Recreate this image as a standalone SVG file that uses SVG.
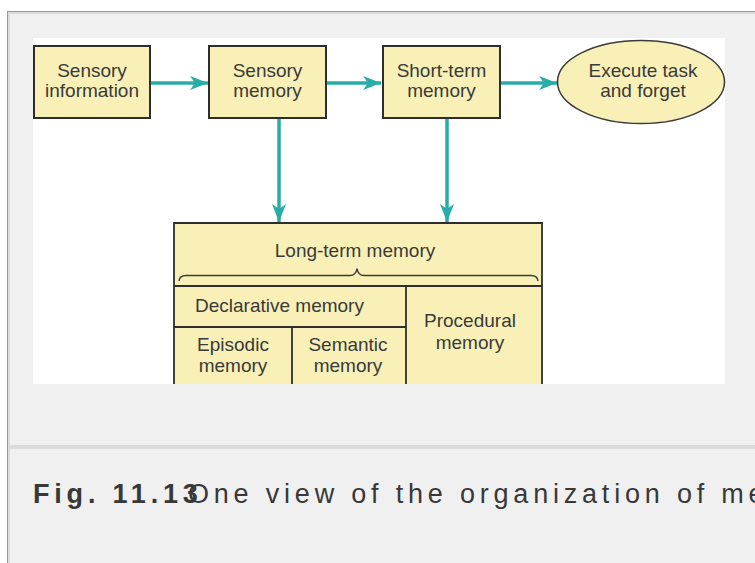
<svg xmlns="http://www.w3.org/2000/svg" width="755" height="563" viewBox="0 0 755 563">
  <defs>
    <style>
      .box { fill: #f8f0b6; stroke: #2e2e2e; stroke-width: 2; }
      .line { stroke: #2e2e2e; stroke-width: 1.8; fill: none; }
      .t { font-family: "Liberation Sans", Arial, sans-serif; font-size: 19px; fill: #3a3a3a; text-anchor: middle; }
      .tl { font-family: "Liberation Sans", Arial, sans-serif; font-size: 19px; fill: #3a3a3a; }
      .conn { stroke: #27aca8; stroke-width: 3.5; fill: none; }
      .cap { font-family: "Liberation Sans", Arial, sans-serif; font-size: 27px; fill: #383838; letter-spacing: 4.8px; }
    </style>
    <marker id="ah" viewBox="0 0 18 14" refX="18" refY="7" markerWidth="18" markerHeight="14" markerUnits="userSpaceOnUse" orient="auto">
      <path d="M0,0 L18,7 L0,14 L5,7 Z" fill="#27aca8"/>
    </marker>
  </defs>

  <!-- page background and frame -->
  <rect x="0" y="0" width="755" height="563" fill="#ffffff"/>
  <rect x="7" y="11" width="748" height="552" fill="#f0f0f0"/>
  <line x1="7" y1="11.5" x2="755" y2="11.5" stroke="#9a9a9a" stroke-width="1"/>
  <line x1="8" y1="13" x2="755" y2="13" stroke="#dcdcdc" stroke-width="2"/>
  <line x1="7.5" y1="11" x2="7.5" y2="563" stroke="#9a9a9a" stroke-width="1"/>
  <line x1="9" y1="12" x2="9" y2="563" stroke="#dcdcdc" stroke-width="2"/>
  <rect x="8" y="445" width="747" height="4" fill="#dcdcdc"/>

  <!-- figure area -->
  <rect x="33" y="38" width="692" height="346" fill="#ffffff"/>

  <!-- connectors -->
  <g id="connectors">
    <line class="conn" x1="151" y1="83" x2="208" y2="83" marker-end="url(#ah)"/>
    <line class="conn" x1="326" y1="83" x2="381" y2="83" marker-end="url(#ah)"/>
    <line class="conn" x1="500" y1="83" x2="557" y2="83" marker-end="url(#ah)"/>
    <line class="conn" x1="279" y1="119" x2="279" y2="222" marker-end="url(#ah)"/>
    <line class="conn" x1="447" y1="119" x2="447" y2="222" marker-end="url(#ah)"/>
  </g>

  <g id="sensory-information">
    <rect class="box" x="34" y="46" width="116" height="72"/>
    <text class="t" x="92" y="77">Sensory</text>
    <text class="t" x="92" y="97">information</text>
  </g>

  <g id="sensory-memory">
    <rect class="box" x="209" y="46" width="117" height="72"/>
    <text class="t" x="267.5" y="77">Sensory</text>
    <text class="t" x="267.5" y="97">memory</text>
  </g>

  <g id="short-term-memory">
    <rect class="box" x="383" y="46" width="117" height="72"/>
    <text class="t" x="441.5" y="77">Short-term</text>
    <text class="t" x="441.5" y="97">memory</text>
  </g>

  <g id="execute-task">
    <ellipse cx="641" cy="82" rx="83.5" ry="41.5" fill="#f8f0b6" stroke="#3a3a3a" stroke-width="1.5"/>
    <text class="t" x="643" y="77">Execute task</text>
    <text class="t" x="643" y="97">and forget</text>
  </g>

  <g id="long-term-memory">
    <rect x="174" y="223" width="368" height="161" fill="#f8f0b6"/>
    <path class="line" d="M174,384 L174,223 L542,223 L542,384" stroke-width="2"/>
    <text class="t" x="355" y="257">Long-term memory</text>
    <path d="M179,281 Q179.5,275.5 186,275.5 L350,275.5 Q356,275.5 357,268.5 Q358,275.5 364,275.5 L531,275.5 Q537.5,275.5 538,281" fill="none" stroke="#3a3a3a" stroke-width="1.4"/>
    <line class="line" x1="174" y1="286" x2="542" y2="286"/>
    <line class="line" x1="406" y1="286" x2="406" y2="384"/>
    <line class="line" x1="174" y1="327" x2="406" y2="327"/>
    <line class="line" x1="292" y1="327" x2="292" y2="384"/>
  </g>

  <g id="declarative-memory">
    <text class="tl" x="195" y="312">Declarative memory</text>
  </g>
  <g id="episodic-memory">
    <text class="t" x="233" y="351">Episodic</text>
    <text class="t" x="233" y="372">memory</text>
  </g>
  <g id="semantic-memory">
    <text class="t" x="348" y="351">Semantic</text>
    <text class="t" x="348" y="372">memory</text>
  </g>
  <g id="procedural-memory">
    <text class="t" x="470" y="327">Procedural</text>
    <text class="t" x="470" y="349">memory</text>
  </g>

  <!-- caption -->
  <text class="cap" x="33" y="503" font-weight="bold">Fig. 11.13</text>
  <text class="cap" x="188" y="503">One view of the organization of me</text>
</svg>
